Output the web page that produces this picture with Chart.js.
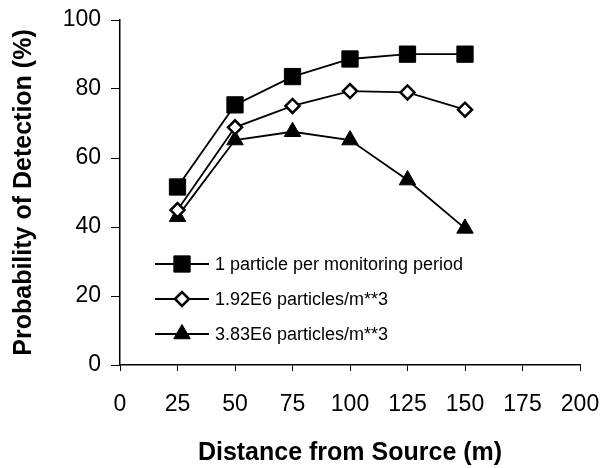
<!DOCTYPE html>
<html>
<head>
<meta charset="utf-8">
<script src="https://cdn.jsdelivr.net/npm/chart.js@4/dist/chart.umd.min.js"></script>
<style>
  html, body { margin: 0; padding: 0; background: #fff; }
  #wrap { width: 605px; height: 468px; }
</style>
</head>
<body>
<div id="wrap"><canvas id="detChart"></canvas></div>
<script>
// distances (m) where detection probability was estimated
const distances = [25, 50, 75, 100, 125, 150];

// probability of detection (%) per release scenario
const oneParticle = [51.6, 75.4, 83.6, 88.7, 90.1, 90.1];
const conc192 = [44.9, 68.9, 75.1, 79.4, 79.0, 74.0];
const conc383 = [43, 65.2, 67.6, 65.2, 53.6, 39.6];

const seriesNames = [
    '1 particle per monitoring period',
    '1.92E6 particles/m**3',
    '3.83E6 particles/m**3'
];

const xTicks = [0, 25, 50, 75, 100, 125, 150, 175, 200];
const yTicks = [0, 20, 40, 60, 80, 100];

function toPoints(values) {
    return values.map((v, i) => ({ x: distances[i], y: v }));
}

// draw a marker shape (used by the in-plot legend)
function drawMarker(ctx, style, x, y, r) {
    ctx.beginPath();
    if (style === 'rect') {
        const s = Math.SQRT1_2 * r;
        ctx.rect(x - s, y - s, 2 * s, 2 * s);
    } else if (style === 'rectRot') {
        ctx.moveTo(x - r, y);
        ctx.lineTo(x, y - r);
        ctx.lineTo(x + r, y);
        ctx.lineTo(x, y + r);
        ctx.closePath();
    } else {
        ctx.moveTo(x, y - r);
        ctx.lineTo(x + Math.sin(2 * Math.PI / 3) * r, y + r / 2);
        ctx.lineTo(x - Math.sin(2 * Math.PI / 3) * r, y + r / 2);
        ctx.closePath();
    }
}

// legend sits inside the plot, line through marker like the original
const insideLegend = {
    id: 'insideLegend',
    afterDraw(chart) {
        const ctx = chart.ctx;
        const x0 = 155, x1 = 209, rowY = [264, 299, 334];
        ctx.save();
        chart.data.datasets.forEach((ds, i) => {
            const y = rowY[i];
            ctx.strokeStyle = '#000';
            ctx.lineWidth = 1.8;
            ctx.beginPath();
            ctx.moveTo(x0, y);
            ctx.lineTo(x1, y);
            ctx.stroke();
            drawMarker(ctx, ds.pointStyle, (x0 + x1) / 2, y, ds.pointRadius);
            ctx.fillStyle = ds.pointBackgroundColor;
            ctx.fill();
            ctx.lineWidth = ds.pointBorderWidth;
            ctx.stroke();
            ctx.fillStyle = '#000';
            ctx.font = '18px "Liberation Sans", Arial, sans-serif';
            ctx.textBaseline = 'middle';
            ctx.fillText(ds.label, 215, y + 1);
        });
        ctx.restore();
    }
};

const ctx = document.getElementById('detChart').getContext('2d');
const axisFont = { family: '"Liberation Sans", Arial, sans-serif', size: 23 };
const titleFont = { family: '"Liberation Sans", Arial, sans-serif', size: 25, weight: 'bold' };

new Chart(ctx, {
    type: 'line',
    data: {
        datasets: [{
            label: seriesNames[0],
            data: toPoints(oneParticle),
            borderColor: '#000',
            borderWidth: 1.8,
            pointStyle: 'rect',
            pointRadius: 11.5,
            pointBackgroundColor: '#000',
            pointBorderColor: '#000',
            pointBorderWidth: 1
        }, {
            label: seriesNames[1],
            data: toPoints(conc192),
            borderColor: '#000',
            borderWidth: 1.8,
            pointStyle: 'rectRot',
            pointRadius: 7,
            pointBackgroundColor: '#fff',
            pointBorderColor: '#000',
            pointBorderWidth: 2.5
        }, {
            label: seriesNames[2],
            data: toPoints(conc383),
            borderColor: '#000',
            borderWidth: 1.8,
            pointStyle: 'triangle',
            pointRadius: 9.5,
            pointBackgroundColor: '#000',
            pointBorderColor: '#000',
            pointBorderWidth: 1
        }]
    },
    options: {
        responsive: true,
        maintainAspectRatio: false,
        animation: false,
        layout: { padding: { top: 20, right: 25, left: 0, bottom: 0 } },
        scales: {
            x: {
                type: 'linear',
                min: 0,
                max: 200,
                afterFit(scale) {
                    scale.height = 103;
                    scale.paddingLeft = 0;
                    scale.paddingRight = 0;
                },
                afterBuildTicks(scale) { scale.ticks = xTicks.map(v => ({ value: v })); },
                ticks: { color: '#000', font: axisFont, padding: 20, maxRotation: 0 },
                grid: { drawOnChartArea: false, color: '#000', tickLength: 6 },
                border: { color: '#000', width: 1.5 },
                title: {
                    display: true,
                    text: 'Distance from Source (m)',
                    color: '#000',
                    font: titleFont,
                    padding: { top: 0, bottom: 0 }
                }
            },
            y: {
                min: 0,
                max: 100,
                afterFit(scale) {
                    scale.width = 120;
                    scale.paddingTop = 0;
                    scale.paddingBottom = 0;
                },
                afterBuildTicks(scale) { scale.ticks = yTicks.map(v => ({ value: v })); },
                ticks: { color: '#000', font: axisFont, padding: 10 },
                grid: { drawOnChartArea: false, color: '#000', tickLength: 9 },
                border: { color: '#000', width: 1.5 },
                title: {
                    display: true,
                    text: 'Probability of Detection (%)',
                    color: '#000',
                    font: titleFont,
                    padding: { top: 9, bottom: 0 }
                }
            }
        },
        plugins: {
            legend: { display: false },
            tooltip: { enabled: false }
        }
    },
    plugins: [insideLegend]
});
</script>
</body>
</html>
